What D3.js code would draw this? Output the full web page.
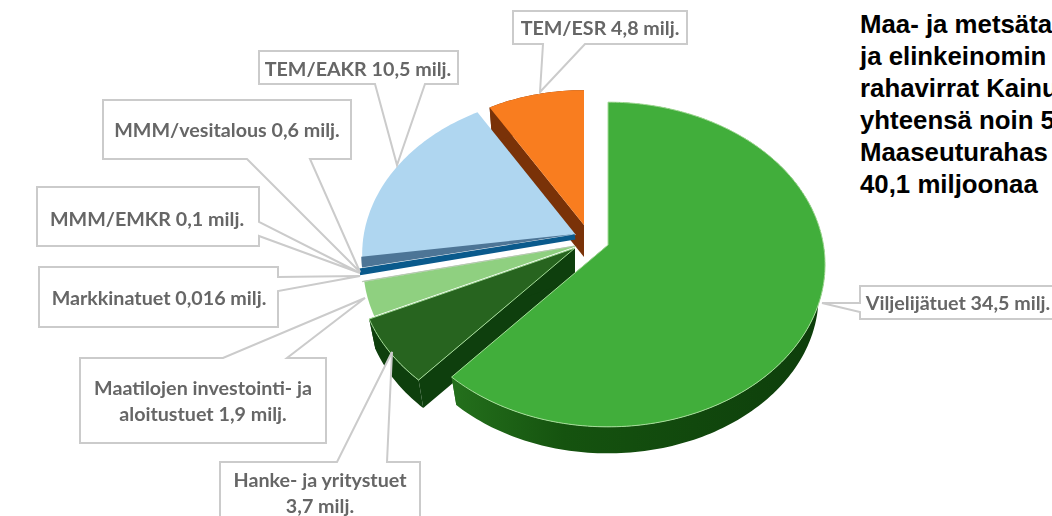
<!DOCTYPE html>
<html>
<head>
<meta charset="utf-8">
<script src="https://cdnjs.cloudflare.com/ajax/libs/d3/7.8.5/d3.min.js"></script>
<style>
  html, body { margin: 0; padding: 0; background: #fff; overflow: hidden; }
  svg { display: block; }
  .callout text { font-family: Lato, sans-serif; font-weight: 700; font-size: 19.7px; fill: #666; text-anchor: middle; }
  .intro { font-family: "Liberation Sans", Arial, sans-serif; font-weight: 700; font-size: 25.8px; fill: #000; }
</style>
</head>
<body>
<div id="chart"></div>
<script>
// values in million euros, clockwise from the top of the pie
var categories = ["Viljelijätuet", "Hanke- ja yritystuet", "Maatilojen investointi- ja aloitustuet", "Markkinatuet", "MMM/EMKR", "MMM/vesitalous", "TEM/EAKR", "TEM/ESR"];
var values = [34.5, 3.7, 1.9, 0.016, 0.1, 0.6, 10.5, 4.8];
var topColors = ["#41ae3b", "#27641f", "#8fd080", "#b9c9b4", "#0a5a8c", "#4d7596", "#afd6f0", "#f97d1f"];
var sideColors = ["url(#greenSide)", "#0e3f0d", null, null, null, null, null, "#7a3208"];

var labelLines = [
  ["Viljelijätuet 34,5 milj."],
  ["Hanke- ja yritystuet", "3,7 milj."],
  ["Maatilojen investointi- ja", "aloitustuet 1,9 milj."],
  ["Markkinatuet 0,016 milj."],
  ["MMM/EMKR 0,1 milj."],
  ["MMM/vesitalous 0,6 milj."],
  ["TEM/EAKR 10,5 milj."],
  ["TEM/ESR 4,8 milj."]
];
var introLines = ["Maa- ja metsäta", "ja elinkeinomin", "rahavirrat Kainu", "yhteensä noin 5", "Maaseuturahas", "40,1 miljoonaa"];

var width = 1052, height = 516;

// perspective of the pie plane
var Rx = 215.5, Ry = 160, k = 0.12, depth = 32, shrink = 0.97;

// where each exploded slice has its tip, and how much its radius is scaled
var sliceLayout = [
  {x: 608, y: 245, r: 1},
  {x: 575, y: 248, r: 1},
  {x: 577, y: 246, r: 0.985},
  {x: 575, y: 246, r: 0.985},
  {x: 575, y: 237, r: 0.985},
  {x: 575, y: 234, r: 0.985},
  {x: 576, y: 235, r: 0.985},
  {x: 584, y: 225, r: 0.944}
];

// label boxes: side the pointer leaves from, the two pointer feet, the tip
// tcx, tcy = middle of the text
var calloutLayout = [
  {x0: 860, y0: 286, x1: 1060, y1: 319, side: "left", a: 312, b: 303, tx: 822, ty: 303, tcx: 958, tcy: 303},
  {x0: 220, y0: 462, x1: 420, y1: 530, side: "top", a: 337, b: 387, tx: 392, ty: 352, tcx: 320, tcy: 493},
  {x0: 80, y0: 358, x1: 326, y1: 443, side: "top", a: 223, b: 287, tx: 365, ty: 298, tcx: 203, tcy: 401},
  {x0: 39, y0: 267, x1: 278, y1: 327, side: "right", a: 277, b: 291, tx: 360, ty: 276, tcx: 159, tcy: 298},
  {x0: 37, y0: 187, x1: 259, y1: 246, side: "right", a: 222, b: 236, tx: 360, ty: 273, tcx: 147, tcy: 219},
  {x0: 103, y0: 100, x1: 351, y1: 159, side: "bottom", a: 310, b: 247, tx: 360, ty: 272, tcx: 227, tcy: 130},
  {x0: 259, y0: 51, x1: 458, y1: 84, side: "bottom", a: 425, b: 375, tx: 397, ty: 165, tcx: 358, tcy: 69},
  {x0: 513, y0: 11, x1: 687, y1: 44, side: "bottom", a: 585, b: 543, tx: 540, ty: 92, tcx: 600, tcy: 28}
];

var svg = d3.select("#chart").append("svg")
    .attr("width", width)
    .attr("height", height);

var grad = svg.append("defs").append("linearGradient")
    .attr("id", "greenSide");
grad.append("stop").attr("offset", "0").attr("stop-color", "#24701c");
grad.append("stop").attr("offset", "0.3").attr("stop-color", "#15530f");
grad.append("stop").attr("offset", "1").attr("stop-color", "#0d3d0b");

var pie = d3.pie().sort(null).value(function(d) { return d; });
var slices = pie(values);

var line = d3.line();

// top face point of slice i at pie angle a
function topPoint(i, a) {
  var s = sliceLayout[i], w = 1 + k * Math.cos(a);
  return [s.x + s.r * Rx * Math.sin(a) / w, s.y - s.r * Ry * Math.cos(a) / w];
}

// same point on the lower rim
function lowPoint(i, a) {
  var s = sliceLayout[i], p = topPoint(i, a);
  return [s.x + (p[0] - s.x) * shrink, s.y + (p[1] - s.y) * shrink + depth];
}

function arcAngles(d) {
  var n = Math.max(2, Math.ceil((d.endAngle - d.startAngle) / 0.02));
  return d3.range(n + 1).map(function(j) {
    return d.startAngle + (d.endAngle - d.startAngle) * j / n;
  });
}

var pieGroup = svg.append("g").style("filter", "blur(0.5px)");

// back to front: orange first, big green last. the dark blue goes under its slate neighbour
var order = [7, 6, 4, 5, 3, 2, 1, 0];

// the two thinnest slices get a stroke in their own colour so that they show at all
var ownStroke = {3: 1, 4: 5};

order.forEach(function(i) {
  var d = slices[i], s = sliceLayout[i], angles = arcAngles(d);
  var apex = [s.x, s.y], apexLow = [s.x, s.y + depth];

  if (sideColors[i]) {
    var rim = angles.map(function(a) { return topPoint(i, a); })
      .concat(angles.slice().reverse().map(function(a) { return lowPoint(i, a); }));
    var startQuad = [apex, topPoint(i, d.startAngle), lowPoint(i, d.startAngle), apexLow];
    var endQuad = [apex, topPoint(i, d.endAngle), lowPoint(i, d.endAngle), apexLow];
    pieGroup.selectAll(null)
      .data([startQuad, endQuad, rim])
      .enter().append("path")
        .attr("d", function(pts) { return line(pts) + "Z"; })
        .attr("fill", sideColors[i]);
  }

  var face = [apex].concat(angles.map(function(a) { return topPoint(i, a); }));
  var hasRim = i === 0 || i === 1;
  pieGroup.append("path")
      .attr("d", line(face) + "Z")
      .attr("fill", topColors[i])
      .attr("stroke", hasRim ? "#a4dc98" : ownStroke[i] ? topColors[i] : "none")
      .attr("stroke-width", ownStroke[i] || 1);
});

// callouts
function calloutPath(c) {
  var pts = [[c.x0, c.y0]], tip = [c.tx, c.ty];
  if (c.side === "top") pts.push([c.a, c.y0], tip, [c.b, c.y0]);
  pts.push([c.x1, c.y0]);
  if (c.side === "right") pts.push([c.x1, c.a], tip, [c.x1, c.b]);
  pts.push([c.x1, c.y1]);
  if (c.side === "bottom") pts.push([c.a, c.y1], tip, [c.b, c.y1]);
  pts.push([c.x0, c.y1]);
  if (c.side === "left") pts.push([c.x0, c.a], tip, [c.x0, c.b]);
  return line(pts) + "Z";
}

var callouts = svg.append("g").style("filter", "blur(0.5px)")
  .selectAll(".callout")
  .data(calloutLayout)
  .enter().append("g")
    .attr("class", "callout");

callouts.append("path")
    .attr("d", calloutPath)
    .attr("fill", "#fff")
    .attr("stroke", "#cbcbcb")
    .attr("stroke-width", 2);

callouts.append("text")
    .attr("transform", function(c) { return "translate(" + c.tcx + "," + c.tcy + ")"; })
    .each(function(c, i) {
      var lines = labelLines[i];
      d3.select(this).selectAll("tspan")
        .data(lines)
        .enter().append("tspan")
          .attr("x", 0)
          .attr("y", function(t, j) { return (j - (lines.length - 1) / 2) * 26 + 6.5; })
          .text(function(t) { return t; });
    });

// text to the right of the chart, cut by the edge of the picture
svg.append("g").selectAll("text")
    .data(introLines)
    .enter().append("text")
      .attr("class", "intro")
      .attr("x", 860)
      .attr("y", function(t, i) { return 33 + i * 32; })
      .text(function(t) { return t; });
</script>
</body>
</html>
